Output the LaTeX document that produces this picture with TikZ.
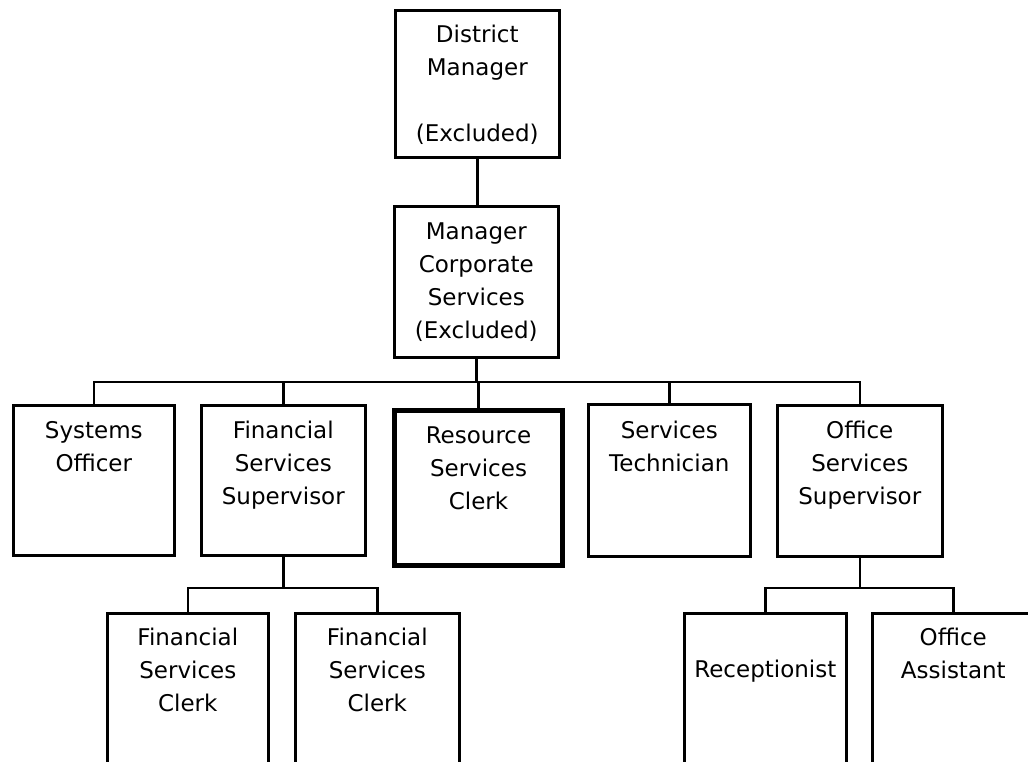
\documentclass[tikz,border=0pt]{standalone}
\usepackage{fontspec}
\setmainfont{DejaVu Sans}
\begin{document}
\begin{tikzpicture}[x=1pt,y=-1pt,
  box/.style={draw, line width=2.6pt, rectangle, inner sep=0pt, anchor=north west},
  thickbox/.style={box, line width=5pt},
  lbl/.style={font=\fontsize{23}{33}\selectfont, align=center, anchor=base, inner sep=0pt},
  conn/.style={line width=2.6pt}]
\useasboundingbox (0,0) rectangle (1028,761);
\clip (0,0) rectangle (1028,761);
% boxes
\node[box, minimum width=164pt, minimum height=147pt] (dm) at (394,9) {};
\node[box, minimum width=164pt, minimum height=151pt] (mcs) at (393,205) {};
\node[box, minimum width=161pt, minimum height=150pt] (so) at (12,404) {};
\node[box, minimum width=164pt, minimum height=150pt] (fss) at (200,404) {};
\node[thickbox, minimum width=168pt, minimum height=155pt] (rsc) at (392,408) {};
\node[box, minimum width=162pt, minimum height=152pt] (st) at (587,403) {};
\node[box, minimum width=165pt, minimum height=151pt] (oss) at (776,404) {};
\node[box, minimum width=161pt, minimum height=200pt] (fsc1) at (106,612) {};
\node[box, minimum width=164pt, minimum height=200pt] (fsc2) at (294,612) {};
\node[box, minimum width=162pt, minimum height=200pt] (rec) at (683,612) {};
\node[box, minimum width=162pt, minimum height=200pt] (oa) at (871,612) {};
% labels (anchor = baseline of the last line; lines 33px apart)
\node[lbl] (dmt) at ([yshift=-132pt]dm.north) {District\\Manager\\~\\(Excluded)};
\node[lbl] (mcst) at ([yshift=-133pt]mcs.north) {Manager\\Corporate\\Services\\(Excluded)};
\node[lbl] (sot) at ([yshift=-67pt]so.north) {Systems\\Officer};
\node[lbl] (fsst) at ([yshift=-100pt]fss.north) {Financial\\Services\\Supervisor};
\node[lbl] (rsct) at ([yshift=-101pt]rsc.north) {Resource\\Services\\Clerk};
\node[lbl] (stt) at ([yshift=-68pt]st.north) {Services\\Technician};
\node[lbl] (osst) at ([yshift=-100pt]oss.north) {Office\\Services\\Supervisor};
\node[lbl] (fsc1t) at ([yshift=-99pt]fsc1.north) {Financial\\Services\\Clerk};
\node[lbl] (fsc2t) at ([yshift=-99pt]fsc2.north) {Financial\\Services\\Clerk};
\node[lbl] (rect) at ([yshift=-65pt]rec.north) {Receptionist};
\node[lbl] (oat) at ([yshift=-66pt]oa.north) {Office\\Assistant};
% connectors
\coordinate (bus) at (475,382);
\coordinate (fbus) at (281,588);
\coordinate (obus) at (860,588);
\draw[conn] (dm.south) -- (dm.south |- mcs.north);
\draw[conn] (mcs.south) -- (mcs.south |- bus);
\draw[conn] (so.north) -- (so.north |- bus) -- (oss.north |- bus) -- (oss.north);
\draw[conn] (fss.north) -- (fss.north |- bus);
\draw[conn] (rsc.north) -- (rsc.north |- bus);
\draw[conn] (st.north) -- (st.north |- bus);
\draw[conn] (fss.south) -- (fss.south |- fbus);
\draw[conn] (fsc1.north) -- (fsc1.north |- fbus) -- (fsc2.north |- fbus) -- (fsc2.north);
\draw[conn] (oss.south) -- (oss.south |- obus);
\draw[conn] (rec.north) -- (rec.north |- obus) -- (oa.north |- obus) -- (oa.north);
\end{tikzpicture}
\end{document}
